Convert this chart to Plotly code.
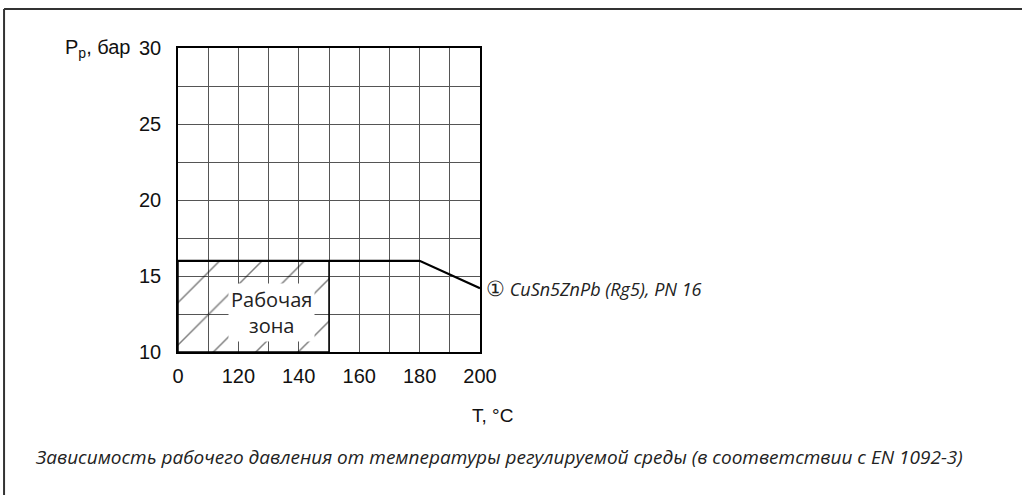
import plotly.graph_objects as go

# ---- data ----
temp_line = [100, 180, 200]          # 100 on the axis is the broken-axis "0"
pressure_line = [16, 16, 14.2]
zone_temp = [100, 100, 150, 150, 100]
zone_pressure = [10, 16, 16, 10, 10]
x_tick_vals = [100, 110, 120, 130, 140, 150, 160, 170, 180, 190, 200]
x_tick_text = ["0", "", "120", "", "140", "", "160", "", "180", "", "200"]
y_tick_vals = [10, 12.5, 15, 17.5, 20, 22.5, 25, 27.5, 30]
y_tick_text = ["10", "", "15", "", "20", "", "25", "", "30"]
series_label = "CuSn5ZnPb (Rg5), PN 16"
zone_label = "Рабочая<br>зона"
caption = "Зависимость рабочего давления от температуры регулируемой среды (в соответствии с EN 1092-3)"

fig = go.Figure()

fig.add_trace(go.Scatter(
    x=zone_temp, y=zone_pressure, mode="lines", fill="toself",
    line=dict(color="black", width=1.5),
    fillcolor="rgba(0,0,0,0)",
    fillpattern=dict(shape="/", size=30, solidity=0.05, fgcolor="black",
                     bgcolor="rgba(0,0,0,0)", fillmode="overlay"),
    hoverinfo="skip", showlegend=False))

fig.add_trace(go.Scatter(
    x=temp_line, y=pressure_line, mode="lines",
    line=dict(color="black", width=2.2), showlegend=False))

tickfont = dict(family="Liberation Sans, Arial, sans-serif", size=20, color="#111")

fig.update_xaxes(range=[100, 200], tickvals=x_tick_vals, ticktext=x_tick_text,
                 showgrid=True, gridcolor="#555", gridwidth=1,
                 showline=True, linecolor="black", linewidth=1.5, mirror=True,
                 ticks="", ticklabelstandoff=5, tickfont=tickfont, zeroline=False)
fig.update_yaxes(range=[10, 30], tickvals=y_tick_vals, ticktext=y_tick_text,
                 showgrid=True, gridcolor="#555", gridwidth=1,
                 showline=True, linecolor="black", linewidth=1.5, mirror=True,
                 ticks="", ticklabelstandoff=11, tickfont=tickfont, zeroline=False)

fig.add_annotation(x=131, y=12.6, xref="x", yref="y", text=zone_label,
                   showarrow=False, bgcolor="white", borderpad=2,
                   font=dict(family="Open Sans, sans-serif", size=20, color="#222"))

fig.add_annotation(x=200, y=14.2, xref="x", yref="y", xanchor="left", xshift=4,
                   text="<span style='font-size:21px'>①</span> <i>" + series_label + "</i>",
                   showarrow=False,
                   font=dict(family="Open Sans, sans-serif", size=18, color="#222"))

fig.add_annotation(x=-0.38, y=1.0, xref="paper", yref="paper", xanchor="left", yanchor="middle",
                   text="P<sub>p</sub>, бар", showarrow=False,
                   font=dict(family="Liberation Sans, Arial, sans-serif", size=20, color="#111"))

fig.add_annotation(x=0.967, y=-0.21, xref="paper", yref="paper", xanchor="left", yanchor="middle",
                   text="T, °C", showarrow=False,
                   font=dict(family="Liberation Sans, Arial, sans-serif", size=19, color="#111"))

fig.add_annotation(x=-0.479, y=-0.347, xref="paper", yref="paper", xanchor="left", yanchor="middle",
                   text="<i>" + caption + "</i>", showarrow=False,
                   font=dict(family="Open Sans, sans-serif", size=19, color="#222"))

# outer frame (top and left edges)
fig.add_shape(type="line", xref="paper", yref="paper", x0=-0.576, x1=2.8, y0=1.128, y1=1.128,
              line=dict(color="#333", width=2))
fig.add_shape(type="line", xref="paper", yref="paper", x0=-0.576, x1=-0.576, y0=1.128, y1=-0.48,
              line=dict(color="#333", width=2))

fig.update_layout(width=1022, height=495, margin=dict(l=178, r=542, t=48, b=143),
                  plot_bgcolor="white", paper_bgcolor="white", showlegend=False)

fig.write_html("out.html", config={"displayModeBar": False},
               post_script="document.body.style.margin='0';")
